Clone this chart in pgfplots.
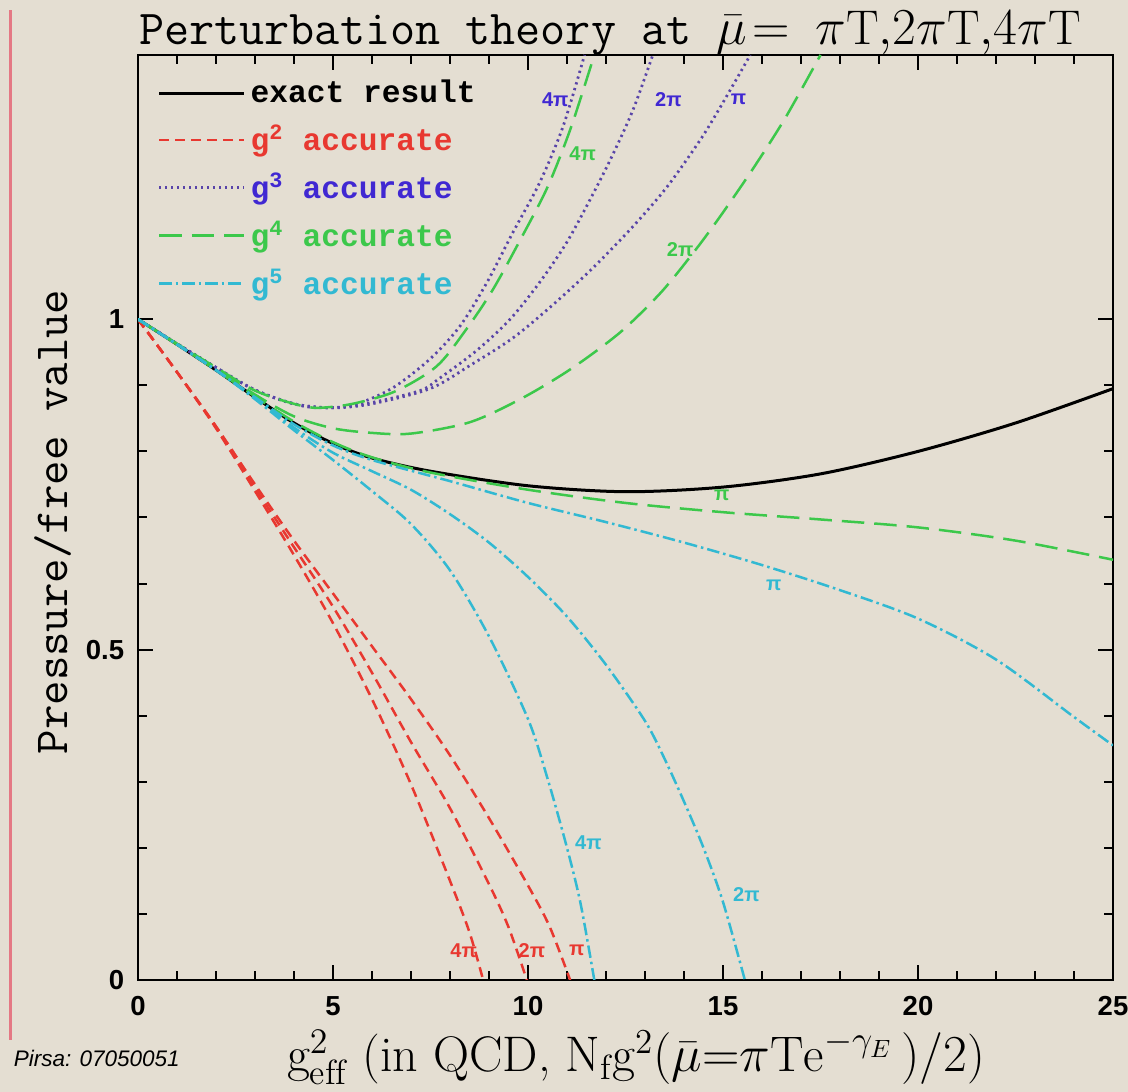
\documentclass[border=0pt]{standalone}
\usepackage{fontspec}
\usepackage{pgfplots}
\pgfplotsset{compat=1.18}
\newfontfamily\tickfont{Liberation Sans}
\newfontfamily\legfont{Liberation Mono}
\newfontfamily\labfont{Liberation Sans}
\definecolor{bg}{RGB}{228,222,210}
\definecolor{sideline}{RGB}{228,120,132}
\definecolor{gtwo}{RGB}{232,56,48}
\definecolor{gthreetext}{RGB}{64,40,210}
\definecolor{gthree}{RGB}{88,68,168}
\definecolor{gfour}{RGB}{60,200,75}
\definecolor{gfive}{RGB}{50,185,210}
\begin{document}
\begin{tikzpicture}[x=0.4pt,y=0.4pt]
\fill[bg] (0,0) rectangle (1128,1092);
\useasboundingbox (0,0) rectangle (1128,1092);
\draw[sideline, line width=1.2pt] (10,52) -- (10,1082);
\begin{axis}[
  at={(55.2pt,44.8pt)}, anchor=south west,
  width=390pt, height=370pt, scale only axis,
  xmin=0, xmax=25, ymin=0, ymax=1.4,
  xtick={0,5,...,25}, ytick={0,0.5,1},
  minor x tick num=4, minor y tick num=4,
  tick align=inside, major tick length=6pt, minor tick length=3.5pt,
  axis line style={line width=1pt, black},
  tick style={line width=0.8pt, black},
  tick label style={font=\tickfont\bfseries\fontsize{11}{11}\selectfont},
  /pgf/number format/assume math mode=true,
  xticklabel style={yshift=-3pt},
  yticklabel style={xshift=-2pt},
  legend style={at={(axis cs:0.3,1.378)}, anchor=north west, draw=none, fill=none,
    font=\legfont\bfseries\fontsize{12.5}{13}\selectfont, row sep=3.5pt},
  legend cell align=left,
  legend image code/.code={\draw[#1] (0pt,0pt) -- (34pt,0pt);},
]
% exact
\addplot[black, line width=1.2pt, smooth] coordinates {
(0,1)(1,0.962)(2,0.923)(3,0.882)(4,0.843)(5,0.812)(6,0.79)(7.5,0.77)(10,0.748)(12.5,0.739)(15,0.746)(17.5,0.766)(20,0.80)(22.5,0.843)(25,0.895)};
\addlegendentry{exact result}
% g2
\addplot[gtwo, line width=1pt, dash pattern=on 4pt off 2.4pt, smooth] coordinates {
(0,1)(1,0.92)(2,0.835)(3,0.74)(4,0.643)(5,0.54)(6,0.425)(7,0.296)(8,0.15)(8.5,0.072)(8.85,0)};
\addlegendentry{\textcolor{gtwo}{g\textsuperscript{2} accurate}}
\addplot[gtwo, line width=1pt, dash pattern=on 4pt off 2.4pt, smooth, forget plot] coordinates {
(0,1)(1,0.92)(2,0.837)(3,0.745)(4,0.655)(5,0.565)(6,0.465)(7,0.36)(8,0.26)(9,0.145)(9.5,0.08)(9.97,0)};
\addplot[gtwo, line width=1pt, dash pattern=on 4pt off 2.4pt, smooth, forget plot] coordinates {
(0,1)(1,0.92)(2,0.838)(3,0.75)(4,0.665)(5,0.585)(6,0.505)(7,0.425)(8,0.34)(9,0.245)(10,0.143)(10.56,0.08)(11.08,0)};
% g3
\addplot[gthree, line width=1.1pt, dash pattern=on 0.9pt off 1.5pt, smooth] coordinates {
(0,1)(1,0.963)(2,0.927)(3,0.893)(4,0.872)(4.6,0.866)(5.5,0.87)(6.5,0.895)(7.49,0.94)(8.26,0.99)(8.95,1.056)(9.6,1.13)(10.3,1.207)(10.9,1.292)(11.45,1.40)};
\addlegendentry{\textcolor{gthreetext}{g\textsuperscript{3} accurate}}
\addplot[gthree, line width=1.1pt, dash pattern=on 0.9pt off 1.5pt, smooth, forget plot] coordinates {
(0,1)(1,0.963)(2,0.927)(3,0.893)(4,0.872)(5,0.866)(6,0.874)(7.23,0.892)(7.74,0.911)(8.69,0.953)(9.54,1.0)(10.3,1.056)(11.0,1.117)(11.67,1.19)(12.18,1.25)(12.7,1.318)(13.2,1.40)};
\addplot[gthree, line width=1.1pt, dash pattern=on 0.9pt off 1.5pt, smooth, forget plot] coordinates {
(0,1)(1,0.963)(2,0.927)(3,0.893)(4,0.872)(5,0.866)(6,0.872)(7.49,0.895)(8.51,0.93)(9.62,0.972)(10.64,1.022)(11.67,1.078)(12.7,1.141)(13.56,1.2)(14.4,1.27)(14.92,1.32)(15.7,1.40)};
% g4
\addplot[gfour, line width=1pt, dash pattern=on 9pt off 4pt, smooth] coordinates {
(0,1)(1,0.962)(2,0.923)(3,0.883)(4,0.845)(5,0.814)(6,0.791)(7.5,0.768)(10,0.742)(12.5,0.722)(15,0.708)(17.5,0.697)(20,0.685)(22.5,0.665)(25,0.636)};
\addlegendentry{\textcolor{gfour}{g\textsuperscript{4} accurate}}
\addplot[gfour, line width=1pt, dash pattern=on 9pt off 4pt, smooth, forget plot] coordinates {
(0,1)(1,0.962)(2,0.925)(3,0.886)(4,0.853)(5,0.835)(6,0.828)(7,0.827)(8.5,0.844)(9.8,0.879)(11.08,0.924)(12.36,0.98)(13.4,1.04)(14.23,1.10)(14.92,1.155)(15.77,1.228)(16.6,1.305)(17.5,1.40)};
\addplot[gfour, line width=1pt, dash pattern=on 9pt off 4pt, smooth, forget plot] coordinates {
(0,1)(1,0.963)(2,0.927)(3,0.892)(4,0.872)(4.6,0.866)(5.5,0.872)(6.6,0.891)(7.66,0.929)(8.42,0.985)(9.1,1.045)(9.8,1.12)(10.5,1.2)(11.1,1.29)(11.7,1.40)};
% g5
\addplot[gfive, line width=1pt, dash pattern=on 5pt off 1.6pt on 1pt off 1.6pt, smooth] coordinates {
(0,1)(1,0.962)(2,0.923)(3,0.882)(4,0.841)(5,0.809)(6,0.787)(8,0.755)(10,0.722)(12,0.693)(14,0.662)(16,0.628)(18,0.59)(20,0.547)(22,0.485)(24,0.398)(25,0.355)};
\addlegendentry{\textcolor{gfive}{g\textsuperscript{5} accurate}}
\addplot[gfive, line width=1pt, dash pattern=on 5pt off 1.6pt on 1pt off 1.6pt, smooth, forget plot] coordinates {
(0,1)(1,0.962)(2,0.923)(3,0.881)(4,0.836)(5,0.798)(6,0.77)(7,0.742)(8,0.705)(9,0.662)(10,0.61)(11,0.55)(12,0.477)(13,0.392)(13.5,0.335)(14,0.27)(14.5,0.2)(15,0.118)(15.56,0)};
\addplot[gfive, line width=1pt, dash pattern=on 5pt off 1.6pt on 1pt off 1.6pt, smooth, forget plot] coordinates {
(0,1)(1,0.962)(2,0.923)(3,0.879)(4,0.832)(5,0.787)(6,0.74)(7,0.69)(8,0.62)(9,0.52)(10,0.395)(10.5,0.305)(11,0.2)(11.35,0.115)(11.7,0)};
% curve labels
\begin{scope}[every node/.style={font=\labfont\bfseries\fontsize{8}{8}\selectfont, inner sep=0.5pt}]
\node[gthreetext] at (axis cs:10.7,1.333) {4π};
\node[gthreetext] at (axis cs:13.6,1.333) {2π};
\node[gthreetext] at (axis cs:15.4,1.333) {π};
\node[gfour] at (axis cs:11.4,1.25) {4π};
\node[gfour] at (axis cs:13.9,1.106) {2π};
\node[gfour] at (axis cs:14.97,0.733) {π};
\node[gfive] at (axis cs:16.3,0.598) {π};
\node[gfive] at (axis cs:11.55,0.208) {4π};
\node[gfive] at (axis cs:15.6,0.129) {2π};
\node[gtwo] at (axis cs:8.35,0.045) {4π};
\node[gtwo] at (axis cs:10.1,0.045) {2π};
\node[gtwo] at (axis cs:11.25,0.045) {π};
\end{scope}
\end{axis}
\node[anchor=base, font=\ttfamily\fontsize{19.5}{20}\selectfont] at (610,1047)
  {Perturbation theory at $\bar{\mu}\!=$ $\pi\mathrm{T}{,}2\pi\mathrm{T}{,}4\pi\mathrm{T}$};
\node[rotate=90, anchor=base, font=\ttfamily\fontsize{19}{19}\selectfont] at (68,570) {Pressure/free value};
\node[anchor=base, font=\rmfamily\fontsize{20}{20}\selectfont] at (636,20)
  {$\mathrm{g}^2_{\mathrm{eff}}$ (in QCD, $\mathrm{N_f g^2}(\bar{\mu}{=}\pi\mathrm{Te}^{-\gamma_{\scriptscriptstyle E}}\,)/2$)};
\node[anchor=base west, font=\labfont\itshape\fontsize{9}{9}\selectfont] at (5,25) {Pirsa: 07050051};
\end{tikzpicture}
\end{document}
